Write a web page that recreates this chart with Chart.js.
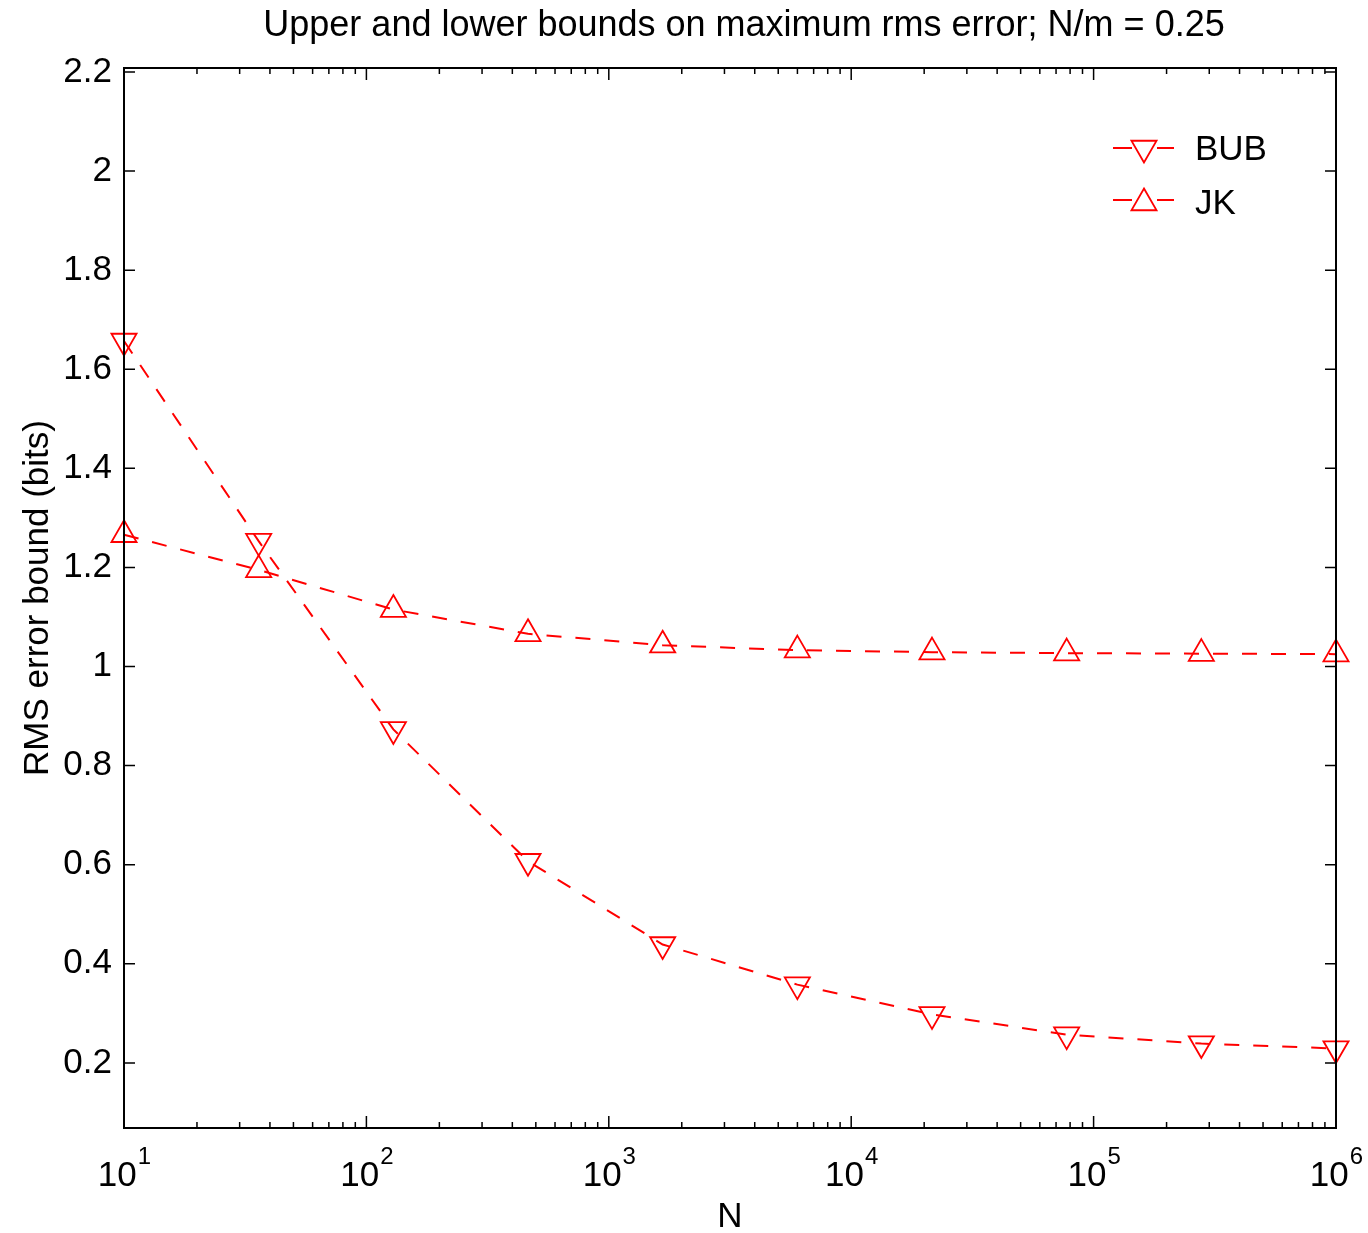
<!DOCTYPE html>
<html>
<head>
<meta charset="utf-8">
<title>RMS error bounds</title>
<script src="https://cdn.jsdelivr.net/npm/chart.js@4.4.1/dist/chart.umd.min.js"></script>
<style>
  html, body { margin: 0; padding: 0; background: #fff; }
</style>
</head>
<body>
<canvas id="boundsChart" width="1368" height="1233"></canvas>
<script>
// valores
const sampleSizes = [10, 35.94, 129.2, 464.2, 1668, 5995, 21544, 77426, 278256, 1000000];
const bubValues = [1.657, 1.253, 0.873, 0.607, 0.439, 0.358, 0.298, 0.257, 0.239, 0.229];
const jkValues = [1.266, 1.195, 1.115, 1.066, 1.043, 1.033, 1.029, 1.027, 1.026, 1.025];

const yTicks = [0.2, 0.4, 0.6, 0.8, 1, 1.2, 1.4, 1.6, 1.8, 2, 2.2];
const xDecades = [10, 100, 1000, 10000, 100000, 1000000];
const xExponents = ['1', '2', '3', '4', '5', '6'];

const titleText = 'Upper and lower bounds on maximum rms error; N/m = 0.25';
const seriesNames = ['BUB', 'JK'];

const FONT = '"Liberation Sans", Arial, Helvetica, sans-serif';
const RED = '#ff0000';

function toPoints(values) {
  return values.map((v, i) => ({ x: sampleSizes[i], y: v }));
}

// minor ticks of the log axis (2..9 x 10^k)
function logTicks() {
  const ticks = [];
  for (let k = 0; k < xDecades.length; k++) {
    ticks.push({ value: xDecades[k], major: true });
    if (k < xDecades.length - 1) {
      for (let m = 2; m <= 9; m++) ticks.push({ value: m * xDecades[k], major: false });
    }
  }
  return ticks;
}

const frameAndTicks = {
  id: 'frameAndTicks',
  afterDatasetsDraw(chart) {
    const { ctx, chartArea: a, scales } = chart;
    ctx.save();
    ctx.strokeStyle = '#000';
    ctx.lineWidth = 1.5;
    ctx.beginPath();
    scales.y.ticks.forEach(t => {
      const py = scales.y.getPixelForValue(t.value);
      ctx.moveTo(a.left, py); ctx.lineTo(a.left + 11, py);
      ctx.moveTo(a.right, py); ctx.lineTo(a.right - 11, py);
    });
    scales.x.ticks.forEach(t => {
      const px = scales.x.getPixelForValue(t.value);
      const len = t.major ? 12 : 6;
      ctx.moveTo(px, a.bottom); ctx.lineTo(px, a.bottom - len);
      ctx.moveTo(px, a.top); ctx.lineTo(px, a.top + len);
    });
    ctx.stroke();
    ctx.lineWidth = 2;
    ctx.strokeRect(a.left, a.top, a.right - a.left, a.bottom - a.top);

    // x tick labels, 10 with exponent
    ctx.fillStyle = '#000';
    ctx.textBaseline = 'alphabetic';
    ctx.textAlign = 'left';
    xDecades.forEach((v, i) => {
      const px = scales.x.getPixelForValue(v);
      ctx.font = '35px ' + FONT;
      const wBase = ctx.measureText('10').width;
      ctx.font = '24px ' + FONT;
      const wExp = ctx.measureText(xExponents[i]).width;
      const x0 = px - (wBase + wExp) / 2;
      ctx.font = '35px ' + FONT;
      ctx.fillText('10', x0, 1186);
      ctx.font = '24px ' + FONT;
      ctx.fillText(xExponents[i], x0 + wBase + 1, 1164);
    });

    // title
    ctx.font = '36px ' + FONT;
    ctx.textAlign = 'center';
    ctx.textBaseline = 'middle';
    ctx.fillText(titleText, 744, 26);
    ctx.restore();
  },
  afterDraw(chart) {
    // legend: short line, marker, name
    const { ctx } = chart;
    const rows = [
      { name: seriesNames[0], lineY: 148, markY: 148, textY: 150, rot: 180 },
      { name: seriesNames[1], lineY: 200, markY: 203, textY: 204, rot: 0 }
    ];
    ctx.save();
    rows.forEach(r => {
      ctx.strokeStyle = RED;
      ctx.lineWidth = 2;
      ctx.beginPath();
      ctx.moveTo(1113, r.lineY); ctx.lineTo(1132, r.lineY);
      ctx.moveTo(1157, r.lineY); ctx.lineTo(1174, r.lineY);
      ctx.stroke();
      ctx.fillStyle = 'rgba(0,0,0,0)';
      ctx.lineWidth = 1.8;
      Chart.helpers.drawPoint(ctx, { pointStyle: 'triangle', rotation: r.rot, radius: 14.5, borderWidth: 1.8 }, 1144, r.markY);
      ctx.fillStyle = '#000';
      ctx.font = '35px ' + FONT;
      ctx.textAlign = 'left';
      ctx.textBaseline = 'middle';
      ctx.fillText(r.name, 1195, r.textY);
    });
    ctx.restore();
  }
};

const ctx = document.getElementById('boundsChart').getContext('2d');
const chart = new Chart(ctx, {
  type: 'line',
  data: {
    datasets: [
      {
        label: seriesNames[0],
        data: toPoints(bubValues),
        borderColor: RED,
        borderWidth: 2,
        borderDash: [15, 14],
        pointStyle: 'triangle',
        pointRotation: 180,
        pointRadius: 14.5,
        pointBorderWidth: 1.8,
        pointBorderColor: RED,
        pointBackgroundColor: 'rgba(0,0,0,0)',
        tension: 0,
        clip: false
      },
      {
        label: seriesNames[1],
        data: toPoints(jkValues),
        borderColor: RED,
        borderWidth: 2,
        borderDash: [15, 14],
        pointStyle: 'triangle',
        pointRotation: 0,
        pointRadius: 14.5,
        pointBorderWidth: 1.8,
        pointBorderColor: RED,
        pointBackgroundColor: 'rgba(0,0,0,0)',
        tension: 0,
        clip: false
      }
    ]
  },
  options: {
    responsive: false,
    animation: false,
    devicePixelRatio: 1,
    layout: { padding: { top: 68, right: 32, left: 0, bottom: 0 } },
    plugins: {
      legend: { display: false },
      title: { display: false },
      tooltip: { enabled: false }
    },
    scales: {
      x: {
        type: 'logarithmic',
        min: 10,
        max: 1000000,
        grid: { display: false, drawTicks: false },
        border: { display: false },
        ticks: { display: false },
        afterBuildTicks: scale => { scale.ticks = logTicks(); },
        afterFit: scale => { scale.height = 105; },
        title: {
          display: true,
          text: 'N',
          color: '#000',
          font: { family: FONT, size: 35, lineHeight: 1 },
          padding: { top: 0, bottom: -2 }
        }
      },
      y: {
        type: 'linear',
        min: 0.0686,
        max: 2.208,
        grid: { display: false, drawTicks: false },
        border: { display: false },
        afterBuildTicks: scale => { scale.ticks = yTicks.map(v => ({ value: v })); },
        afterFit: scale => { scale.width = 124; },
        ticks: {
          color: '#000',
          padding: 12,
          font: { family: FONT, size: 35 },
          callback: v => String(Math.round(v * 10) / 10)
        },
        title: {
          display: true,
          text: 'RMS error bound (bits)',
          color: '#000',
          font: { family: FONT, size: 35, lineHeight: 1 },
          padding: { top: 21, bottom: 0 }
        }
      }
    }
  },
  plugins: [frameAndTicks]
});
</script>
</body>
</html>
